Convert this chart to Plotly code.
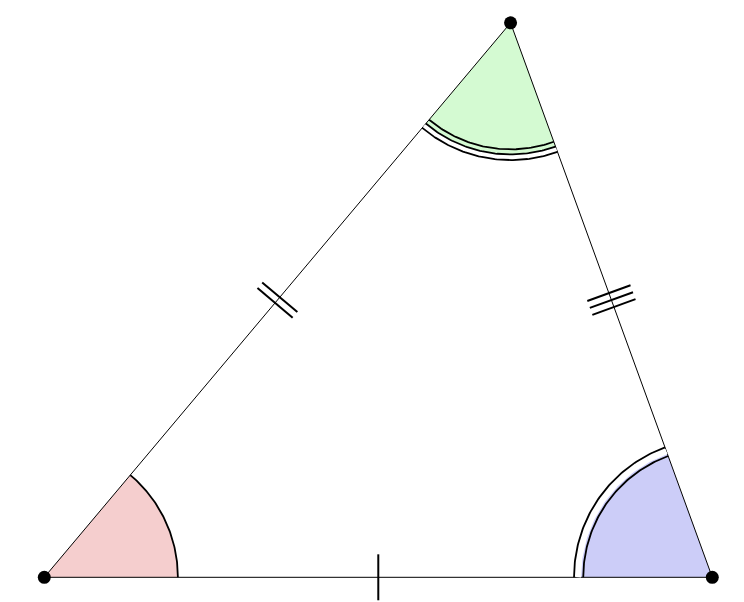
import numpy as np
import plotly.graph_objects as go

# triangle vertices (cm): A bottom-left, B bottom-right, C top
vertex_names = ['A', 'B', 'C']
vertex_x = [0.0, 5.0, 3.49]
vertex_y = [0.0, 0.0, 4.15]

# angle marks: vertex, fill colour, number of arc lines
angle_vertex = ['A', 'B', 'C']
angle_fill = ['#f5cece', '#cccdf8', '#d4fad2']
angle_arcs = [1, 2, 3]

# equal-side tick marks on each side
side_ends = [('A', 'B'), ('A', 'C'), ('B', 'C')]
side_ticks = [1, 2, 3]

pts = {n: np.array([x, y]) for n, x, y in zip(vertex_names, vertex_x, vertex_y)}


def arc(center, r, a0, a1, n=80):
    t = np.linspace(a0, a1, n)
    return center[0] + r * np.cos(t), center[1] + r * np.sin(t)


def direction(p, q):
    d = pts[q] - pts[p]
    return np.arctan2(d[1], d[0])


def angle_span(v):
    others = [n for n in vertex_names if n != v]
    a0, a1 = direction(v, others[0]), direction(v, others[1])
    if a1 - a0 > np.pi:
        a0 += 2 * np.pi
    elif a0 - a1 > np.pi:
        a1 += 2 * np.pi
    return a0, a1


fig = go.Figure()

# angle fills
for v, col, k in zip(angle_vertex, angle_fill, angle_arcs):
    a0, a1 = angle_span(v)
    r_fill = {1: 1.0, 2: 1.0, 3: 0.985}[k]
    ax, ay = arc(pts[v], r_fill, a0, a1)
    fig.add_trace(go.Scatter(
        x=np.r_[pts[v][0], ax, pts[v][0]], y=np.r_[pts[v][1], ay, pts[v][1]],
        fill='toself', fillcolor=col, mode='lines', line=dict(width=0),
        hoverinfo='skip', showlegend=False))

# triangle sides
fig.add_trace(go.Scatter(
    x=vertex_x + [vertex_x[0]], y=vertex_y + [vertex_y[0]],
    mode='lines', line=dict(color='black', width=1),
    hoverinfo='skip', showlegend=False))

# angle arcs (single / double / triple)
for v, k in zip(angle_vertex, angle_arcs):
    a0, a1 = angle_span(v)
    if k == 1:
        radii = [1.0]
    elif k == 2:
        radii = [0.966, 1.035]
        wx, wy = arc(pts[v], 1.003, a0, a1)
        fig.add_trace(go.Scatter(x=wx, y=wy, mode='lines',
                                 line=dict(color='white', width=5.5),
                                 hoverinfo='skip', showlegend=False))
    else:
        radii = [0.947, 0.985, 1.027]
        wx, wy = arc(pts[v], 1.006, a0, a1)
        fig.add_trace(go.Scatter(x=wx, y=wy, mode='lines',
                                 line=dict(color='white', width=3.5),
                                 hoverinfo='skip', showlegend=False))
    for r in radii:
        ax, ay = arc(pts[v], r, a0, a1)
        fig.add_trace(go.Scatter(x=ax, y=ay, mode='lines',
                                 line=dict(color='black', width=1.8),
                                 hoverinfo='skip', showlegend=False))

# tick marks
for (p, q), k in zip(side_ends, side_ticks):
    d = pts[q] - pts[p]
    u = d / np.linalg.norm(d)
    nrm = np.array([-u[1], u[0]])
    mid = (pts[p] + pts[q]) / 2
    for i in range(k):
        c = mid + u * 0.055 * (i - (k - 1) / 2)
        e0, e1 = c - nrm * 0.172, c + nrm * 0.172
        fig.add_trace(go.Scatter(x=[e0[0], e1[0]], y=[e0[1], e1[1]], mode='lines',
                                 line=dict(color='black', width=2),
                                 hoverinfo='skip', showlegend=False))

# vertex dots
fig.add_trace(go.Scatter(x=vertex_x, y=vertex_y, mode='markers',
                         marker=dict(color='black', size=13),
                         hoverinfo='skip', showlegend=False))

# page body has an 8px margin, so the plot is 736x594 and ranges are shifted
fig.update_layout(
    width=736, height=594,
    margin=dict(l=0, r=0, t=0, b=0),
    paper_bgcolor='white', plot_bgcolor='white',
    xaxis=dict(range=[-0.2717, 5.2374], visible=False, fixedrange=True),
    yaxis=dict(range=[-0.1849, 4.2612], visible=False, fixedrange=True),
)

fig.write_html('out.html', config={'displayModeBar': False})
